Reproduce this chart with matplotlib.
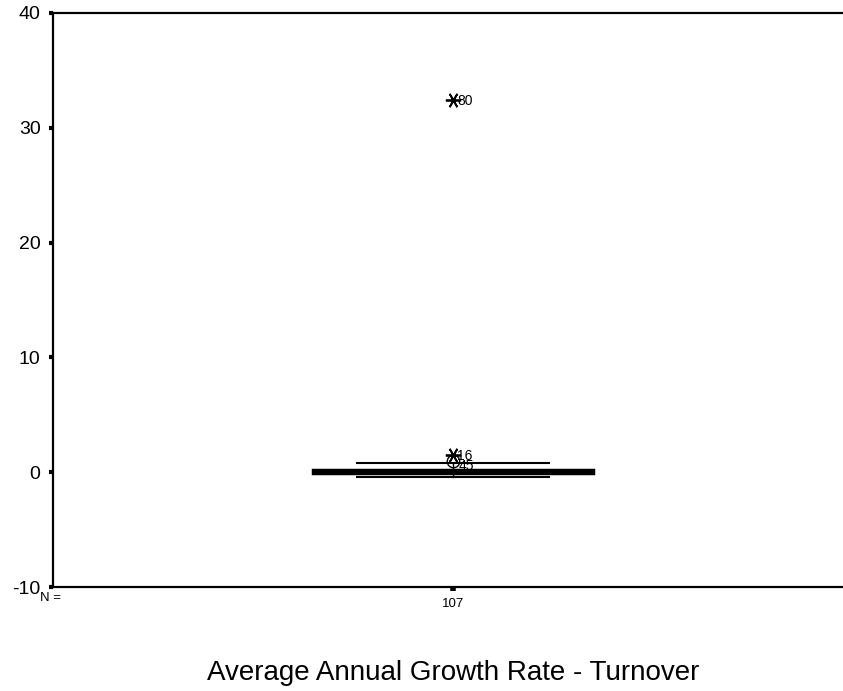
import matplotlib
matplotlib.use("Agg")
import matplotlib.pyplot as plt

plt.rcParams['font.family'] = ['Liberation Sans', 'DejaVu Sans']

## Box statistics
median = 0.10
q1 = -0.05
q3 = 0.22
whisker_low = -0.44
whisker_high = 0.78
n_cases = 107

## Outliers: (value, case label, marker)
outlier_values = [32.4, 1.5, 0.95]
outlier_labels = ["80", "16", "45"]
outlier_markers = ["x", "x", "o"]

y_ticks = [-10, 0, 10, 20, 30, 40]
x_title = "Average Annual Growth Rate - Turnover"

fig = plt.figure(figsize=(8.43, 6.91), dpi=100)
ax = fig.add_axes([53 / 843, 104 / 691, 790 / 843, 574 / 691])

stats = [{
    "med": median, "q1": q1, "q3": q3,
    "whislo": whisker_low, "whishi": whisker_high, "fliers": [],
}]
ax.bxp(stats, positions=[1], widths=0.7, capwidths=0.48, patch_artist=True,
       showfliers=False,
       boxprops=dict(facecolor="black", edgecolor="black", linewidth=2.5),
       medianprops=dict(color="black", linewidth=2.5),
       whiskerprops=dict(color="black", linewidth=1),
       capprops=dict(color="black", linewidth=1.5))

# outliers with their case numbers
for val, lab, mk in zip(outlier_values, outlier_labels, outlier_markers):
    if mk == "o":
        ax.plot(1, val, marker="o", markersize=9, markerfacecolor="none",
                markeredgecolor="black", markeredgewidth=1, linestyle="none")
        ax.text(1.014, val - 0.45, lab, fontsize=10, va="center", ha="left")
    else:
        ax.plot(1, val, marker=(6, 2, 90), markersize=11, color="black",
                markeredgewidth=1.3, linestyle="none")
        ax.text(1.01, val - 0.05, lab, fontsize=10, va="center", ha="left")

ax.set_xlim(0, 1.975)
ax.set_ylim(-10, 40)
ax.set_yticks(y_ticks)
ax.set_yticklabels([str(t) for t in y_ticks], fontsize=14)
ax.tick_params(axis="y", direction="out", length=3, width=3, pad=6)
ax.set_xticks([1])
ax.set_xticklabels([str(n_cases)], fontsize=9.5)
ax.tick_params(axis="x", direction="out", length=3, width=4, pad=5)

for side in ["left", "top", "bottom"]:
    ax.spines[side].set_linewidth(1.6)
ax.spines["right"].set_visible(False)

ax.text(-13 / 790, -11 / 574, "N =", transform=ax.transAxes, fontsize=9.5,
        ha="left", va="center")

fig.text(453 / 843, 1 - 673 / 691, x_title, fontsize=20, ha="center",
         va="center")

fig.savefig("out.png", dpi=100)
